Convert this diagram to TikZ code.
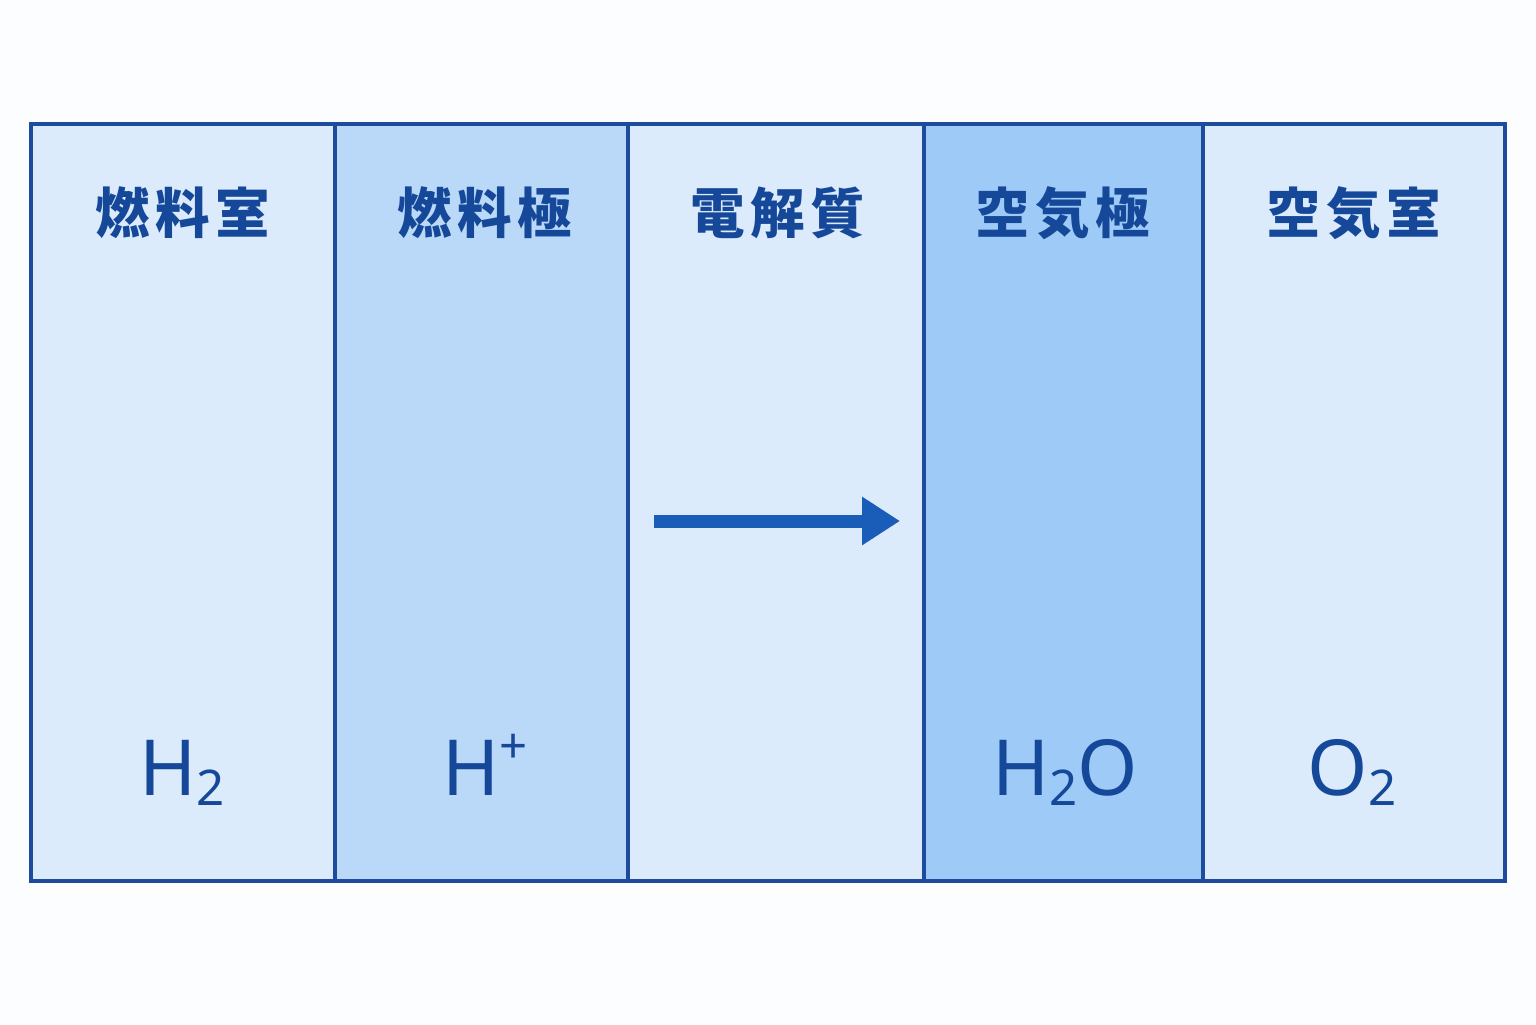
\documentclass[tikz,border=0pt]{standalone}
\usepackage{fontspec}
\setmainfont{Noto Sans}
\newfontfamily\cjk{Noto Sans CJK JP}[LetterSpace=10]
\usetikzlibrary{arrows.meta}
\definecolor{edgeblue}{HTML}{1D4C9C}
\definecolor{inkblue}{HTML}{16489A}
\definecolor{arrowblue}{HTML}{1A5DB8}
\definecolor{palefill}{HTML}{DCEBFB}
\definecolor{midfill}{HTML}{BAD9F8}
\definecolor{deepfill}{HTML}{9DCAF6}
\definecolor{paper}{HTML}{FBFDFF}
\newcommand\chemsub[1]{\raisebox{-3pt}{\fontsize{14pt}{14pt}\selectfont #1}}
\newcommand\chemsup[1]{\raisebox{9pt}{\fontsize{14pt}{14pt}\selectfont #1}}

\begin{document}
\begin{tikzpicture}[
  panel/.style = {draw=edgeblue, line width=1.1pt, inner sep=0pt, minimum height=7.57cm},
  head/.style = {text=inkblue, font=\cjk\bfseries\fontsize{15.5pt}{18pt}\selectfont},
  formula/.style = {text=inkblue, anchor=base, font=\fontsize{22pt}{24pt}\selectfont}]
	\useasboundingbox[fill=paper] (0, 0) rectangle (15.36, 10.24);
	\node[panel, fill=palefill, minimum width=3.04cm] (fuelroom) at (1.83, 5.215){};
	\node[panel, fill=midfill, minimum width=2.93cm] (fuelpole) at (4.815, 5.215){};
	\node[panel, fill=palefill, minimum width=2.96cm] (electro) at (7.76, 5.215){};
	\node[panel, fill=deepfill, minimum width=2.79cm] (airpole) at (10.635, 5.215){};
	\node[panel, fill=palefill, minimum width=3.02cm] (airroom) at (13.54, 5.215){};
	\node[head] (t1) at (1.83, 8.11){燃料室};
	\node[head] (t2) at (4.85, 8.11){燃料極};
	\node[head] (t3) at (7.78, 8.11){電解質};
	\node[head] (t4) at (10.63, 8.11){空気極};
	\node[head] (t5) at (13.54, 8.11){空気室};
	\node[formula] (h2) at (1.82, 2.29){H\chemsub{2}};
	\node[formula] (hplus) at (4.85, 2.29){H\chemsup{+}};
	\node[formula] (water) at (10.65, 2.29){H\chemsub{2}O};
	\node[formula] (o2) at (13.52, 2.29){O\chemsub{2}};
	\coordinate (from) at (6.54, 5.03);
	\coordinate (to) at (9.00, 5.03);
	\draw[arrowblue, line width=3.7pt, -{Triangle[length=0.38cm, width=0.46cm]}] (from) -- (to);
\end{tikzpicture}
\end{document}
